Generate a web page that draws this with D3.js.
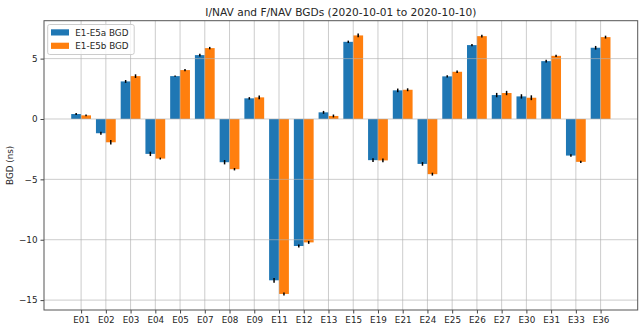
<!DOCTYPE html>
<html><head><meta charset="utf-8">
<script src="https://cdn.jsdelivr.net/npm/d3@7"></script>
<style>
html,body{margin:0;padding:0;background:#fff;}
text{font-family:"DejaVu Sans",sans-serif;fill:#262626;}
</style></head>
<body><svg id="c" width="644" height="331"></svg>
<script>
const categories = ["E01","E02","E03","E04","E05","E07","E08","E09","E11","E12","E13","E15","E19","E21","E24","E25","E26","E27","E30","E31","E33","E36"];
const e5aValues = [0.41,-1.18,3.11,-2.89,3.55,5.29,-3.58,1.71,-13.36,-10.52,0.55,6.39,-3.41,2.37,-3.72,3.53,6.12,1.98,1.87,4.79,-3.03,5.90];
const e5bValues = [0.30,-1.93,3.55,-3.28,4.05,5.87,-4.16,1.79,-14.49,-10.22,0.25,6.92,-3.43,2.42,-4.57,3.91,6.86,2.15,1.76,5.23,-3.55,6.78];
const e5aErrors = [0.08,0.12,0.12,0.18,0.06,0.12,0.18,0.1,0.2,0.12,0.12,0.1,0.15,0.15,0.15,0.1,0.1,0.18,0.18,0.12,0.1,0.15];
const e5bErrors = [0.08,0.18,0.15,0.08,0.1,0.1,0.1,0.15,0.12,0.12,0.12,0.15,0.15,0.12,0.12,0.1,0.12,0.18,0.2,0.1,0.1,0.12];
const yTicks = [-15,-10,-5,0,5];
const seriesNames = ["E1-E5a BGD","E1-E5b BGD"];
const colors = ["#1f77b4","#ff7f0e"];
const titleText = "I/NAV and F/NAV BGDs (2020-10-01 to 2020-10-10)";
const yLabel = "BGD (ns)";

const svg = d3.select("#c");
const L = 44, R = 637.7, T = 20.7, B = 310;
const x = d3.scaleLinear().domain([-1.5, categories.length + 0.5]).range([L, R]);
const y = d3.scaleLinear().domain([-15.82, 8.14]).range([B, T]);
const bw = x(0.4) - x(0);

const series = [
  {vals: e5aValues, errs: e5aErrors, off: -0.4},
  {vals: e5bValues, errs: e5bErrors, off: 0}
];

const plot = svg.append("g");
series.forEach((s, si) => {
  plot.selectAll(null).data(s.vals).enter().append("rect")
    .attr("x", (d, i) => x(i + s.off))
    .attr("width", bw)
    .attr("y", d => y(Math.max(0, d)))
    .attr("height", d => Math.abs(y(d) - y(0)))
    .attr("fill", colors[si]);
});
series.forEach((s, si) => {
  plot.selectAll(null).data(s.vals).enter().append("line")
    .attr("x1", (d, i) => x(i + s.off + 0.2))
    .attr("x2", (d, i) => x(i + s.off + 0.2))
    .attr("y1", (d, i) => y(d - s.errs[i]))
    .attr("y2", (d, i) => y(d + s.errs[i]))
    .attr("stroke", "#000").attr("stroke-width", 1.5);
});

// grid on top
const grid = svg.append("g").attr("stroke", "#b0b0b0").attr("stroke-opacity", 0.65).attr("stroke-width", 1);
categories.forEach((c, i) => {
  grid.append("line").attr("x1", x(i)).attr("x2", x(i)).attr("y1", T).attr("y2", B);
});
yTicks.forEach(t => {
  grid.append("line").attr("x1", L).attr("x2", R).attr("y1", y(t)).attr("y2", y(t));
});

// axes
const xAxis = d3.axisBottom(x).tickValues(d3.range(categories.length)).tickFormat(i => categories[i]).tickSizeOuter(0).tickSize(3.5).tickPadding(3);
const yAxis = d3.axisLeft(y).tickValues(yTicks).tickFormat(d => d < 0 ? "\u2212" + Math.abs(d) : d).tickSizeOuter(0).tickSize(3.5).tickPadding(3);
const gx = svg.append("g").attr("transform", `translate(0,${B})`).call(xAxis);
const gy = svg.append("g").attr("transform", `translate(${L},0)`).call(yAxis);
[gx, gy].forEach(g => {
  g.select(".domain").remove();
  g.selectAll("text").attr("font-size", 8.8).attr("font-family", "DejaVu Sans").attr("fill", "#262626");
  g.selectAll(".tick line").attr("stroke", "#444");
});
svg.append("rect").attr("x", L).attr("y", T).attr("width", R - L).attr("height", B - T)
  .attr("fill", "none").attr("stroke", "#555").attr("stroke-width", 1);

// title
svg.append("text").attr("x", (L + R) / 2).attr("y", 15.5).attr("text-anchor", "middle")
  .attr("font-size", 10.6).text(titleText);
// y label
svg.append("text").attr("transform", `translate(13,${(T + B) / 2}) rotate(-90)`)
  .attr("text-anchor", "middle").attr("font-size", 8.8).text(yLabel);

// legend
const lg = svg.append("g");
lg.append("rect").attr("x", 47.7).attr("y", 24.5).attr("width", 86.5).attr("height", 30)
  .attr("rx", 2).attr("fill", "#fff").attr("fill-opacity", 0.8).attr("stroke", "#ccc").attr("stroke-width", 1);
seriesNames.forEach((n, i) => {
  lg.append("rect").attr("x", 51).attr("y", 29.3 + i * 13.4).attr("width", 18).attr("height", 6.2).attr("fill", colors[i]);
  lg.append("text").attr("x", 75.3).attr("y", 36 + i * 13.4).attr("font-size", 8.8).text(n);
});
</script></body></html>
